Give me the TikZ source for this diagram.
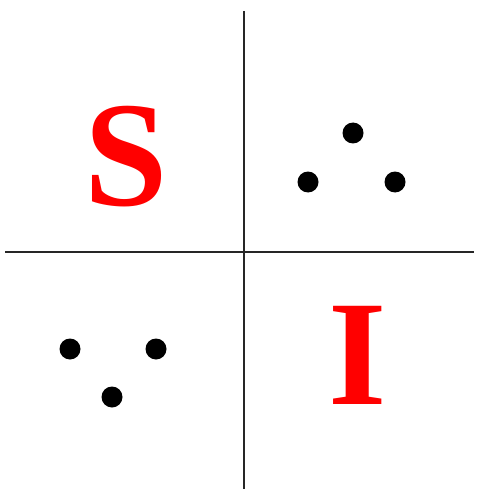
\documentclass[tikz,border=0pt]{standalone}
\usepackage{fontspec}
\setmainfont{Liberation Serif}
\begin{document}
\begin{tikzpicture}[x=1pt,y=-1pt,
  axis/.style={line width=1.6pt,black!85},
  dot/.style={circle,fill=black,inner sep=0pt,minimum size=21pt},
  letter/.style={text=red,inner sep=0pt,font=\fontsize{150}{150}\selectfont\bfseries}]
\useasboundingbox (0,0) rectangle (477,489);
\coordinate (vt) at (244,11);
\coordinate (vb) at (244,489);
\coordinate (hl) at (5,252);
\coordinate (hr) at (474,252);
\draw[axis] (vt) -- (vb);
\draw[axis] (hl) -- (hr);
\node[letter] (s) at (126,157) {S};
\node[letter] (i) at (358,355) {I};
\node[dot] (d1) at (353,133) {};
\node[dot] (d2) at (308,182) {};
\node[dot] (d3) at (395,182) {};
\node[dot] (d4) at (70,349) {};
\node[dot] (d5) at (156,349) {};
\node[dot] (d6) at (112,397) {};
\end{tikzpicture}
\end{document}
